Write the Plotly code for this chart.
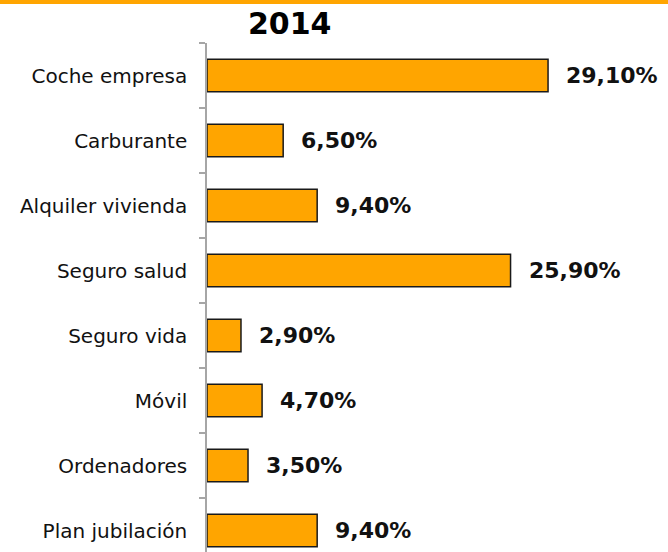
import plotly.graph_objects as go

categories = ["Coche empresa", "Carburante", "Alquiler vivienda", "Seguro salud",
              "Seguro vida", "Móvil", "Ordenadores", "Plan jubilación"]
values = [29.1, 6.5, 9.4, 25.9, 2.9, 4.7, 3.5, 9.4]
labels = ["29,10%", "6,50%", "9,40%", "25,90%", "2,90%", "4,70%", "3,50%", "9,40%"]
title_text = "2014"

W, H = 668, 552
ML, MT, MB, MR = 207, 43, 0, 0
plot_h = H - MT - MB
plot_w = W - ML - MR
cat_px = 65.0
px_per_unit = 11.72

fig = go.Figure()
fig.add_trace(go.Bar(
    x=values, y=categories, orientation="h",
    width=0.5,
    marker=dict(color="#FFA500", line=dict(color="#1a1a1a", width=1.5)),
    hoverinfo="skip",
))

for v, c, t in zip(values, categories, labels):
    fig.add_annotation(x=v, y=c, text=t, showarrow=False, xanchor="left",
                       xshift=16, yshift=0,
                       font=dict(family="DejaVu Sans", size=22, color="#111111", weight="bold"))

fig.add_annotation(xref="paper", yref="paper", x=(290 - ML) / plot_w, y=1 + (MT - 23) / plot_h,
                   text="<b>" + title_text + "</b>", showarrow=False,
                   xanchor="center", yanchor="middle",
                   font=dict(family="DejaVu Sans", size=30, color="#000000"))

fig.add_shape(type="rect", xref="paper", yref="paper",
              x0=-ML / plot_w, x1=1.0, y0=1 + (MT - 4) / plot_h, y1=1 + (MT + 2) / plot_h,
              fillcolor="#FFA500", line=dict(width=0), layer="above")

fig.update_layout(
    width=W, height=H,
    margin=dict(l=ML, r=MR, t=MT, b=MB, pad=0, autoexpand=False),
    paper_bgcolor="white", plot_bgcolor="white",
    showlegend=False,
    xaxis=dict(range=[0, plot_w / px_per_unit], visible=False, fixedrange=True),
    yaxis=dict(
        type="category",
        range=[-0.5 + plot_h / cat_px, -0.5],
        showline=True, linecolor="#A6A6A6", linewidth=1.5,
        ticks="outside", tickson="boundaries", ticklen=6, tickcolor="#A6A6A6", tickwidth=1.5,
        ticklabelstandoff=14,
        tickfont=dict(family="DejaVu Sans", size=20, color="#111111"),
        showgrid=False, zeroline=False, fixedrange=True,
    ),
)

fig.write_html("out.html", config={"displayModeBar": False},
               post_script="document.body.style.margin='0';document.body.style.overflow='hidden';")
